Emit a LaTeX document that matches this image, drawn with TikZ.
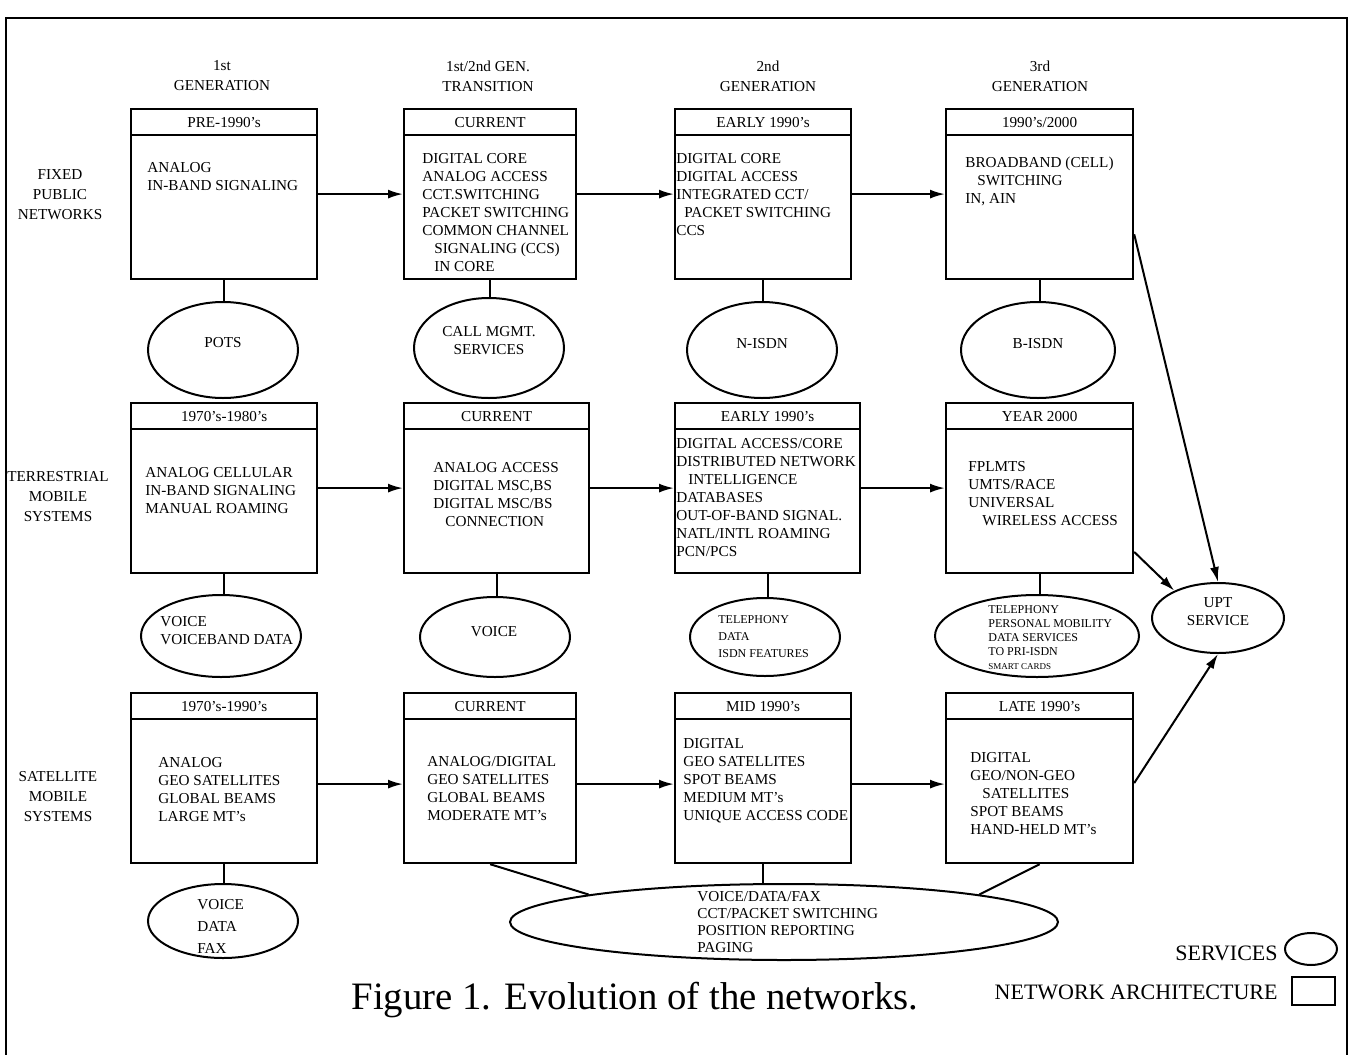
\documentclass[tikz,border=0pt]{standalone}
\usepackage{fontspec}
\setmainfont{Liberation Serif}
\usetikzlibrary{arrows.meta, shapes.geometric, positioning}
\newcommand{\BoxFont}{\fontsize{7.6pt}{9pt}\selectfont}
\newcommand{\NetBox}[5]{%
  \node[netbox, minimum width=#4*0.5pt] (#1) at (#2,#3) {};
  \node[hdrbox, minimum width=#4*0.5pt] (#1h) at (#2,#3) {#5};}

\begin{document}
\begin{tikzpicture}[x=0.5pt, y=-0.5pt,
  netbox/.style={draw, line width=1.1pt, anchor=north west, minimum height=85pt, inner sep=0pt},
  hdrbox/.style={draw, line width=1.1pt, anchor=north west, minimum height=13pt, inner sep=0pt, font=\BoxFont},
  boxtext/.style={anchor=north west, align=left, inner sep=0pt, font=\BoxFont},
  svc/.style={draw, ellipse, line width=1pt, inner sep=0pt},
  svctext/.style={align=left, inner sep=0pt, font=\BoxFont},
  title/.style={align=center, inner sep=0pt, font=\fontsize{7.6pt}{10pt}\selectfont},
  legend/.style={anchor=east, inner sep=0pt, font=\fontsize{11pt}{13pt}\selectfont},
  link/.style={line width=1pt},
  flow/.style={line width=1pt, -{Latex[length=7.5pt, width=4.5pt]}}]
  \useasboundingbox (0,0) rectangle (1350,1055);
  \draw[line width=1pt] (6,1055) -- (6,18) -- (1347,18) -- (1347,1055);

  % generations and rows
  \node[title] (g1) at (222,76) {1st\\GENERATION};
  \node[title] (g2) at (488,76) {1st/2nd GEN.\\TRANSITION};
  \node[title] (g3) at (768,76) {2nd\\GENERATION};
  \node[title] (g4) at (1040,76) {3rd\\GENERATION};
  \node[title] (fixed) at (60,195) {FIXED\\PUBLIC\\NETWORKS};
  \node[title] (terr) at (58,497) {TERRESTRIAL\\MOBILE\\SYSTEMS};
  \node[title] (sat) at (58,797) {SATELLITE\\MOBILE\\SYSTEMS};

  % fixed public networks
  \NetBox{b11}{130}{108}{186}{PRE-1990's}
  \NetBox{b12}{403}{108}{172}{CURRENT}
  \NetBox{b13}{674}{108}{176}{EARLY 1990's}
  \NetBox{b14}{945}{108}{187}{1990's/2000}
  \node[boxtext] (t11) at (147,162) {ANALOG\\IN-BAND SIGNALING};
  \node[boxtext] (t12) at (422,153) {DIGITAL CORE\\ANALOG ACCESS\\CCT.SWITCHING\\PACKET SWITCHING\\COMMON CHANNEL\\\hspace*{6pt}SIGNALING (CCS)\\\hspace*{6pt}IN CORE};
  \node[boxtext] (t13) at (676,153) {DIGITAL CORE\\DIGITAL ACCESS\\INTEGRATED CCT/\\\hspace*{4pt}PACKET SWITCHING\\CCS};
  \node[boxtext] (t14) at (965,157) {BROADBAND (CELL)\\\hspace*{6pt}SWITCHING\\IN, AIN};

  % terrestrial mobile systems
  \NetBox{b21}{130}{402}{186}{1970's-1980's}
  \NetBox{b22}{403}{402}{185}{CURRENT}
  \NetBox{b23}{674}{402}{185}{EARLY 1990's}
  \NetBox{b24}{945}{402}{187}{YEAR 2000}
  \node[boxtext] (t21) at (145,467) {ANALOG CELLULAR\\IN-BAND SIGNALING\\MANUAL ROAMING};
  \node[boxtext] (t22) at (433,462) {ANALOG ACCESS\\DIGITAL MSC,BS\\DIGITAL MSC/BS\\\hspace*{6pt}CONNECTION};
  \node[boxtext] (t23) at (676,438) {DIGITAL ACCESS/CORE\\DISTRIBUTED NETWORK\\\hspace*{6pt}INTELLIGENCE\\DATABASES\\OUT-OF-BAND SIGNAL.\\NATL/INTL ROAMING\\PCN/PCS};
  \node[boxtext] (t24) at (968,461) {FPLMTS\\UMTS/RACE\\UNIVERSAL\\\hspace*{7pt}WIRELESS ACCESS};

  % satellite mobile systems
  \NetBox{b31}{130}{692}{186}{1970's-1990's}
  \NetBox{b32}{403}{692}{172}{CURRENT}
  \NetBox{b33}{674}{692}{176}{MID 1990's}
  \NetBox{b34}{945}{692}{187}{LATE 1990's}
  \node[boxtext] (t31) at (158,757) {ANALOG\\GEO SATELLITES\\GLOBAL BEAMS\\LARGE MT's};
  \node[boxtext] (t32) at (427,756) {ANALOG/DIGITAL\\GEO SATELLITES\\GLOBAL BEAMS\\MODERATE MT's};
  \node[boxtext] (t33) at (683,738) {DIGITAL\\GEO SATELLITES\\SPOT BEAMS\\MEDIUM MT's\\UNIQUE ACCESS CODE};
  \node[boxtext] (t34) at (970,752) {DIGITAL\\GEO/NON-GEO\\\hspace*{6pt}SATELLITES\\SPOT BEAMS\\HAND-HELD MT's};

  % services
  \node[svc, minimum width=75pt, minimum height=48pt] (s11) at (223,350) {};
  \node[svc, minimum width=75pt, minimum height=50pt] (s12) at (489,348) {};
  \node[svc, minimum width=75pt, minimum height=48pt] (s13) at (762,350) {};
  \node[svc, minimum width=77pt, minimum height=48pt] (s14) at (1038,350) {};
  \node[svc, minimum width=80pt, minimum height=41pt] (s21) at (221,636) {};
  \node[svc, minimum width=75pt, minimum height=40pt] (s22) at (495,637) {};
  \node[svc, minimum width=75pt, minimum height=39pt] (s23) at (765,637) {};
  \node[svc, minimum width=102pt, minimum height=41pt] (s24) at (1037,636) {};
  \node[svc, minimum width=66pt, minimum height=35pt] (upt) at (1218,618) {};
  \node[svc, minimum width=75pt, minimum height=37pt] (s31) at (223,921) {};
  \node[svc, minimum width=274pt, minimum height=38pt] (big) at (784,922) {};
  \node[svctext] (p11) at (223,343) {POTS};
  \node[svctext, align=center] (p12) at (489,341) {CALL MGMT.\\SERVICES};
  \node[svctext] (p13) at (762,344) {N-ISDN};
  \node[svctext] (p14) at (1038,344) {B-ISDN};
  \node[svctext, anchor=west] (p21) at (160,631) {VOICE\\VOICEBAND DATA};
  \node[svctext] (p22) at (494,632) {VOICE};
  \node[svctext, anchor=west, font=\fontsize{6pt}{8.5pt}\selectfont] (p23) at (718,637) {TELEPHONY\\DATA\\ISDN FEATURES};
  \node[svctext, anchor=west, font=\fontsize{6pt}{7pt}\selectfont] (p24) at (988,638) {TELEPHONY\\PERSONAL MOBILITY\\DATA SERVICES\\TO PRI-ISDN\\{\fontsize{4.5pt}{7pt}\selectfont SMART CARDS}};
  \node[svctext, align=center] (pupt) at (1218,612) {UPT\\SERVICE};
  \node[svctext, anchor=west, font=\fontsize{7.6pt}{11pt}\selectfont] (p31) at (197,926) {VOICE\\DATA\\FAX};
  \node[svctext, anchor=west, font=\fontsize{7.6pt}{8.5pt}\selectfont] (pbig) at (697,922) {VOICE/DATA/FAX\\CCT/PACKET SWITCHING\\POSITION REPORTING\\PAGING};

  % links to services
  \foreach \b/\s in {b11/s11, b12/s12, b13/s13, b14/s14, b21/s21, b22/s22, b23/s23, b24/s24, b31/s31}
    \draw[link] (\b.south) -- (\b.south |- \s.north);
  \draw[link] (b32.south) -- (big.172);
  \draw[link] (b33.south) -- (b33.south |- big.north);
  \draw[link] (b34.south) -- (big.8);

  % evolution arrows
  \foreach \a/\b in {b11/b12, b12/b13, b13/b14, b21/b22, b22/b23, b23/b24}
    \draw[flow] (\a.east) -- (\b.west);
  \foreach \a/\b in {b31/b32, b32/b33, b33/b34}
    \draw[flow] ([yshift=-3pt]\a.east) -- ([yshift=-3pt]\b.west);
  \draw[flow] (b14.-23) -- (upt.north);
  \draw[flow] (b24.-34) -- (upt.148);
  \draw[flow] (b34.-3) -- (upt.south);

  % caption and legend
  \node[font=\fontsize{19.4pt}{22pt}\selectfont, inner sep=0pt] (cap) at (635,1000) {Figure 1. Evolution of the networks.};
  \node[svc, minimum width=26pt, minimum height=16pt] (lsvc) at (1311,949) {};
  \node[draw, line width=1pt, minimum width=21.5pt, minimum height=14pt, inner sep=0pt] (larch) at (1313,991) {};
  \node[legend] (lsvct) at (1278,953) {SERVICES};
  \node[legend] (larcht) at (1278,992) {NETWORK ARCHITECTURE};
\end{tikzpicture}
\end{document}
